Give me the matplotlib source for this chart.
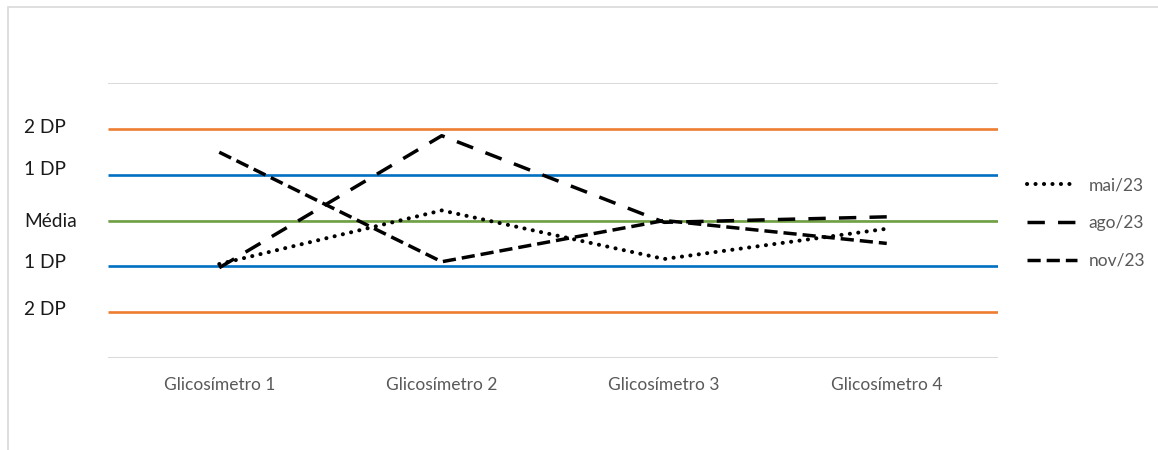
import matplotlib
matplotlib.use("Agg")
import matplotlib.pyplot as plt
from matplotlib.patches import Rectangle
from matplotlib.transforms import blended_transform_factory

plt.rcParams['font.family'] = ['Lato', 'DejaVu Sans']
plt.rcParams['lines.scale_dashes'] = False

# ---- data ----
categories = ["Glicosímetro 1", "Glicosímetro 2", "Glicosímetro 3", "Glicosímetro 4"]
series_names = ["mai/23", "ago/23", "nov/23"]
mai_23 = [-0.95, 0.22, -0.84, -0.18]
ago_23 = [-1.03, 1.85, -0.04, 0.08]
nov_23 = [1.49, -0.90, 0.00, -0.50]

ref_levels = [2, 1, 0, -1, -2]
ref_labels = ["2 DP", "1 DP", "Média", "1 DP", "2 DP"]
ref_colors = ["#ED7D31", "#0070C0", "#70A043", "#0070C0", "#ED7D31"]

W, H = 1158, 450
fig = plt.figure(figsize=(W / 100, H / 100), dpi=100)
fig.patch.set_facecolor("white")

# chart area border (top and left visible)
fig.patches.append(Rectangle((8 / W, -0.1), 1.2, (1 - 7 / H) + 0.1,
                             transform=fig.transFigure, fill=False,
                             edgecolor="#d9d9d9", linewidth=1.2))

ax = fig.add_axes([108 / W, (H - 358) / H, 890 / W, 275 / H])
ax.set_xlim(-0.5, 3.5)
ax.set_ylim(-3, 3)
for s in ax.spines.values():
    s.set_visible(False)

ax.set_yticks([-3, 0, 3])
ax.yaxis.grid(True, color="#d9d9d9", linewidth=1.4)
ax.set_axisbelow(True)
ax.tick_params(axis="y", left=False, labelleft=False)
ax.set_xticks(range(len(categories)))
ax.set_xticklabels(categories, color="#595959", fontsize=12.5)
ax.tick_params(axis="x", bottom=False, pad=10)

# reference lines
for lvl, col in zip(ref_levels, ref_colors):
    ax.hlines(lvl, -0.5, 3.5, colors=col, linewidth=1.9, zorder=2)

# reference labels on the left
label_offsets = [0.02, 0.11, -0.02, 0.08, 0.05]
lab_tr = blended_transform_factory(fig.transFigure, ax.transData)
for lvl, lab, off in zip(ref_levels, ref_labels, label_offsets):
    ax.text(24 / W, lvl + off, lab, transform=lab_tr,
            ha="left", va="center", fontsize=13.8, color="#1a1a1a")

x = range(len(categories))
l1, = ax.plot(x, mai_23, color="black", linewidth=2.9, zorder=3,
              dashes=(0.1, 6.0), dash_capstyle="round", label=series_names[0])
l2, = ax.plot(x, ago_23, color="black", linewidth=2.5, zorder=3,
              dashes=(12.5, 9.5), dash_capstyle="butt", label=series_names[1])
l3, = ax.plot(x, nov_23, color="black", linewidth=2.5, zorder=3,
              dashes=(9.5, 4.3), dash_capstyle="butt", label=series_names[2])

leg = fig.legend(handles=[l1, l2, l3], loc="center left",
                 bbox_to_anchor=(1027 / W, 1 - 223 / H), frameon=False,
                 fontsize=12.5, handlelength=2.9, handletextpad=0.65,
                 labelspacing=1.25, borderpad=0, borderaxespad=0)
for t in leg.get_texts():
    t.set_color("#595959")

fig.savefig("out.png", dpi=100, facecolor="white")
